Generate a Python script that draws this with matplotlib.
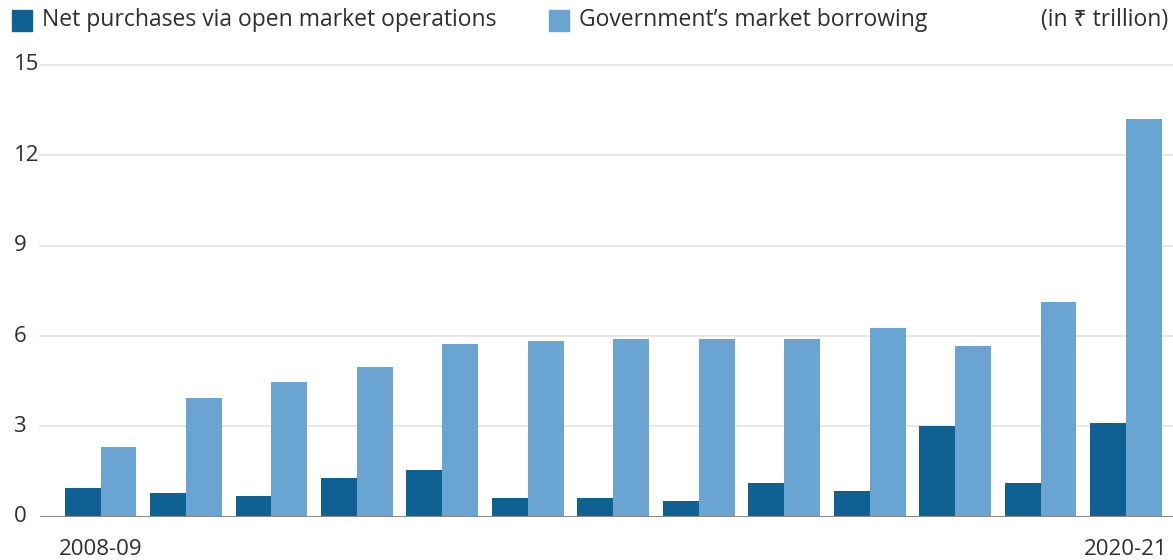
import matplotlib
matplotlib.use("Agg")
import matplotlib.pyplot as plt
from matplotlib.patches import Rectangle
import numpy as np

plt.rcParams['font.family'] = ['Open Sans', 'Noto Sans', 'DejaVu Sans']

# values (in Rs trillion), 2008-09 .. 2020-21
years = ["2008-09", "2009-10", "2010-11", "2011-12", "2012-13", "2013-14", "2014-15",
         "2015-16", "2016-17", "2017-18", "2018-19", "2019-20", "2020-21"]
omo_purchases = [0.95, 0.80, 0.70, 1.30, 1.55, 0.63, 0.62, 0.53, 1.13, 0.86, 3.00, 1.13, 3.10]
govt_borrowing = [2.33, 3.95, 4.48, 4.98, 5.75, 5.85, 5.90, 5.90, 5.90, 6.28, 5.68, 7.14, 13.20]
y_ticks = [0, 3, 6, 9, 12, 15]

dark = "#0f6193"
light = "#69a4d3"
txt = "#2e2e2e"
fs = 16.5

fig = plt.figure(figsize=(11.73, 5.6), dpi=100)
ax = fig.add_axes([0.034, 0.077, 0.966, 0.807])

x = np.arange(len(years))
w = 0.42
ax.bar(x - w / 2, omo_purchases, width=w, color=dark, zorder=2)
ax.bar(x + w / 2, govt_borrowing, width=w, color=light, zorder=2)

ax.set_xlim(-0.71, 12.55)
ax.set_ylim(0, 15)
for t in y_ticks[1:]:
    ax.axhline(t, color="#e3e3e3", lw=1.2, zorder=1, clip_on=False)
ax.axhline(0, color="#8a8a8a", lw=1.5, zorder=3)

for s in ax.spines.values():
    s.set_visible(False)
ax.set_yticks(y_ticks)
ax.set_yticklabels([])
ax.tick_params(length=0)
for t in y_ticks:
    ax.annotate(str(t), xy=(0, t), xycoords=("axes fraction", "data"),
                xytext=(-19, 0), textcoords="offset points",
                ha="left", va="center", fontsize=fs - 0.5, color=txt)

ax.set_xticks([x[0], x[-1]])
ax.set_xticklabels([years[0], years[-1]], fontsize=fs - 0.5, color=txt)
ax.tick_params(axis="x", pad=16)

# legend row across the top
def fig_px(px, py):
    return px / 1173, 1 - py / 560

for (px, col, label) in [(12, dark, "Net purchases via open market operations"),
                         (549, light, "Government\u2019s market borrowing")]:
    x0, y0 = fig_px(px, 31)
    fig.patches.append(Rectangle((x0, y0), 20 / 1173, 21 / 560, transform=fig.transFigure,
                                 color=col))
    tx, ty = fig_px(px + 30, 20)
    fig.text(tx, ty, label, fontsize=fs, color=txt, ha="left", va="center")

tx, ty = fig_px(1168, 20)
fig.text(tx, ty, "(in \u20b9 trillion)", fontsize=fs, color=txt, ha="right", va="center")

fig.savefig("out.png", dpi=100, facecolor="white")
